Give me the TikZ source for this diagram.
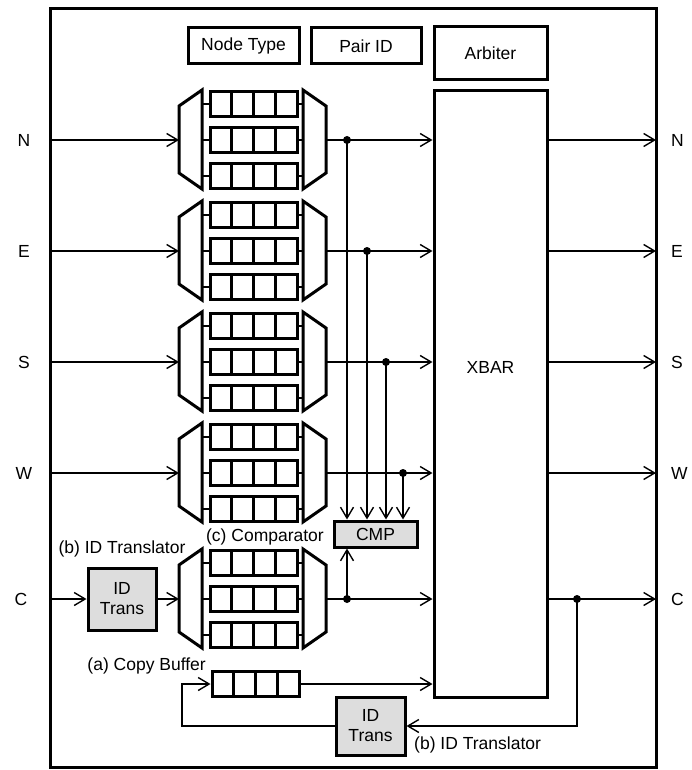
\documentclass[tikz,border=0pt]{standalone}
\usepackage{fontspec}
\setmainfont{Liberation Sans}
\usetikzlibrary{arrows.meta,calc}
\definecolor{boxgray}{RGB}{221,221,221}
\begin{document}
\begin{tikzpicture}[x=1pt,y=-1pt,
  font=\fontsize{17.5}{21}\selectfont,
  thinline/.style={line width=1.6pt},
  thickline/.style={line width=3pt},
  arr/.style={thinline,-{Straight Barb[length=11pt,width=13pt,line width=1.4pt]}},
  box/.style={draw,thickline,inner sep=0pt},
  graybox/.style={box,fill=boxgray,align=center},
  dot/.style={circle,fill,inner sep=0pt,minimum size=8pt},
  bufrow/.style={box,minimum width=87pt,minimum height=25pt},
  lbl/.style={inner sep=0pt}
]
\useasboundingbox (0,0) rectangle (691,770);
\draw[thickline] (50,9) rectangle (656,767);

% top boxes
\node[box,minimum width=111pt,minimum height=36pt] (ntype) at (243.5,46) {Node Type};
\node[box,minimum width=110pt,minimum height=36pt] (pairid) at (366,46) {Pair ID};
\node[box,minimum width=113pt,minimum height=53pt] (arbiter) at (490.5,53.5) {Arbiter};
\node[box,minimum width=113pt,minimum height=606pt] (xbar) at (490.5,394) {};
\node[lbl] (xbarlbl) at (490.5,367) {XBAR};

% input groups
\foreach \nm/\cy in {N/140,E/251,S/362,W/473,C/599}{
  \draw[thickline] (179,\cy-34) -- (202,\cy-50) -- (202,\cy+49) -- (179,\cy+33) -- cycle;
  \draw[thickline] (303,\cy-50) -- (326,\cy-34) -- (326,\cy+33) -- (303,\cy+49) -- cycle;
  \coordinate (mi\nm) at (179,\cy);
  \coordinate (mo\nm) at (326,\cy);
  \foreach \rr/\dy in {1/-36,2/0,3/36}{
    \node[bufrow] (b\nm\rr) at (253.5,\cy+\dy) {};
    \foreach \k in {1,2,3} \draw[thickline] (210+\k*21.75,\cy+\dy-12.5) -- ++(0,25);
    \draw[thinline] (202,\cy+\dy) -- (b\nm\rr.west);
    \draw[thinline] (b\nm\rr.east) -- (303,\cy+\dy);
  }
}

% inputs / outputs N E S W
\foreach \nm/\cy in {N/140,E/251,S/362,W/473}{
  \coordinate (in\nm) at (50,\cy);
  \node[lbl] (lin\nm) at (24,\cy) {\nm};
  \draw[arr] (in\nm) -- (mi\nm);
  \draw[arr] (mo\nm) -- (mo\nm -| xbar.west);
  \coordinate (out\nm) at (656,\cy);
  \draw[arr] (xbar.east |- out\nm) -- (out\nm);
  \node[lbl,anchor=west] (lout\nm) at (671,\cy) {\nm};
}

% C input
\node[lbl] (linC) at (21,599) {C};
\coordinate (inC) at (50,599);
\node[graybox,minimum width=68pt,minimum height=62pt] (idt1) at (122,599) {ID\\[-1pt]Trans};
\draw[arr] (inC) -- (idt1.west);
\draw[arr] (idt1.east) -- (miC);
\draw[arr] (moC) -- (moC -| xbar.west);

% comparator
\node[graybox,minimum width=83pt,minimum height=26pt] (cmp) at (375.5,534) {CMP};
\node[dot] (dN) at (347,140) {};
\node[dot] (dE) at (367,251) {};
\node[dot] (dS) at (386,362) {};
\node[dot] (dW) at (403,473) {};
\node[dot] (dC) at (347,599) {};
\foreach \d in {dN,dE,dS,dW} \draw[arr] (\d.center) -- (\d |- cmp.north);
\draw[arr] (dC.center) -- (dC |- cmp.south);

% C output
\coordinate (outC) at (656,599);
\draw[arr] (xbar.east |- outC) -- (outC);
\node[lbl,anchor=west] (loutC) at (671,599) {C};
\node[dot] (dCo) at (577,599) {};

% lower ID trans and copy buffer
\node[graybox,minimum width=69pt,minimum height=58pt] (idt2) at (370.5,726) {ID\\[-1pt]Trans};
\draw[arr] (dCo.center) |- (idt2.east);
\node[bufrow] (cbuf) at (255.5,684) {};
\foreach \k in {1,2,3} \draw[thickline] (212+\k*21.75,671.5) -- ++(0,25);
\coordinate (fb) at (182,726);
\draw[arr] (idt2.west) -- (fb) |- (cbuf.west);
\draw[arr] (cbuf.east) -- (cbuf.east -| xbar.west);

% labels
\node[lbl,anchor=east] (lcb) at (206,666) {(a) Copy Buffer};
\node[lbl] (lidt1) at (122,549) {(b) ID Translator};
\node[lbl,anchor=east] (lcmp) at (324,537) {(c) Comparator};
\node[lbl,anchor=west] (lidt2) at (414,745) {(b) ID Translator};
\end{tikzpicture}
\end{document}
